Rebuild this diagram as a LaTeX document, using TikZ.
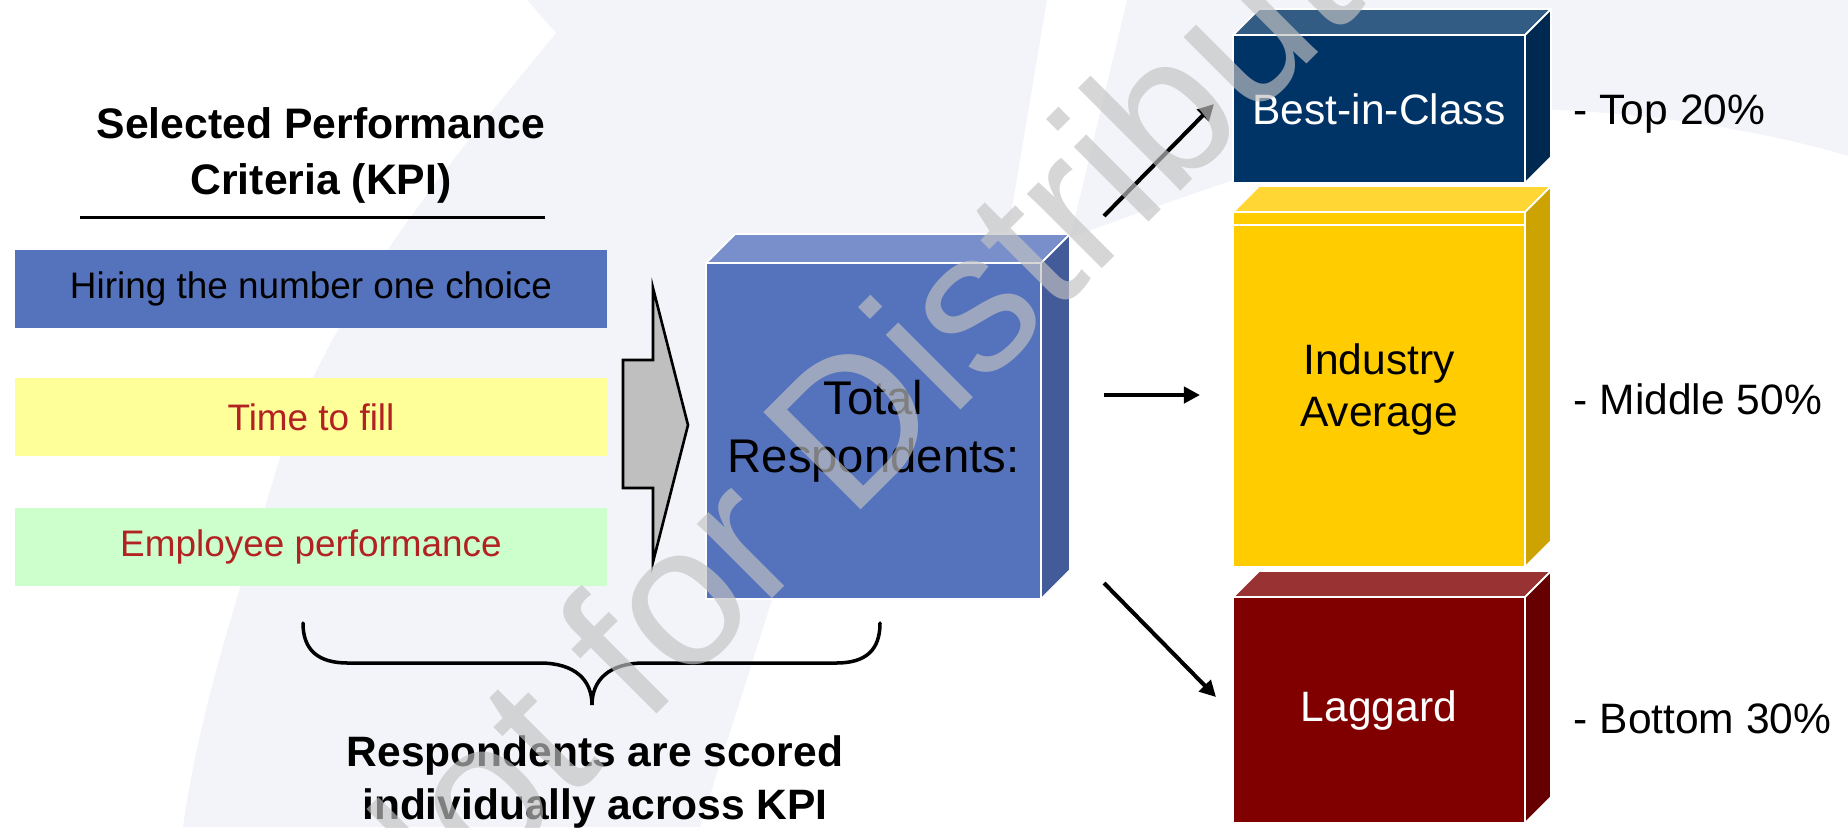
\documentclass[tikz,border=0pt]{standalone}
\usepackage{fontspec}
\setmainfont{Liberation Sans}
\usepackage{xcolor}
\usetikzlibrary{arrows.meta, calc, positioning}

\definecolor{bgtint}{RGB}{243,244,249}
\definecolor{kpiblue}{RGB}{85,114,188}
\definecolor{kpiyellow}{RGB}{255,255,153}
\definecolor{kpigreen}{RGB}{204,255,204}
\definecolor{kpired}{RGB}{178,34,34}
\definecolor{tottop}{RGB}{120,143,203}
\definecolor{totside}{RGB}{68,91,153}
\definecolor{bicfront}{RGB}{0,51,102}
\definecolor{bictop}{RGB}{51,92,133}
\definecolor{bicside}{RGB}{0,41,82}
\definecolor{avgfront}{RGB}{255,204,0}
\definecolor{avgtop}{RGB}{255,214,51}
\definecolor{avgside}{RGB}{204,163,0}
\definecolor{lagfront}{RGB}{128,0,0}
\definecolor{lagtop}{RGB}{153,51,51}
\definecolor{lagside}{RGB}{102,0,0}
\definecolor{wmgray}{RGB}{194,194,194}

% top and side faces of a box: node, depth, top colour, side colour
\newcommand{\cubefaces}[4]{%
  \filldraw[face, fill=#3] (#1.north west) -- ++(#2,#2) -- ($(#1.north east)+(#2,#2)$) -- (#1.north east) -- cycle;
  \filldraw[face, fill=#4] (#1.north east) -- ($(#1.north east)+(#2,#2)$) -- ($(#1.south east)+(#2,#2)$) -- (#1.south east) -- cycle;
}

\begin{document}
\begin{tikzpicture}[
    kpi/.style={minimum width=5.92cm, minimum height=0.78cm, inner sep=0pt, font=\fontsize{10.5}{12.6}\selectfont},
    block/.style={draw=white, line width=0.5pt, inner sep=0pt, outer sep=0pt},
    face/.style={draw=white, line width=0.5pt, line join=round},
    flow/.style={line width=1.15pt, -{Triangle[length=4.6pt, width=4.6pt]}},
    tag/.style={anchor=west, inner sep=0pt, font=\fontsize{12.1}{14.5}\selectfont},
]
    \useasboundingbox (0,0) rectangle (18.48,-8.27);
    \clip (0,0) rectangle (18.48,-8.27);

    % background swooshes
    \fill[bgtint] (0,0) rectangle (18.48,-8.27);
    \fill[white] (0,0) -- (5.27,0) -- (5.56,-0.33) .. controls (4.6,-1.5) and (3.3,-3.0) .. (2.77,-4.67)
        .. controls (2.5,-5.6) and (2.0,-7.0) .. (1.83,-8.27) -- (0,-8.27) -- cycle;
    \fill[white] (10.47,0) -- (11.27,0) -- (10.70,-2.38) -- (10.05,-2.50) -- cycle;
    \fill[white] (7.00,-8.27) -- (7.72,-6.00) -- (9.00,-3.00) -- (10.70,-2.38)
        .. controls (12.8,-1.6) and (14.6,-1.05) .. (15.6,-1.10)
        .. controls (16.6,-1.15) and (17.6,-1.30) .. (18.48,-1.56) -- (18.48,-8.27) -- cycle;

    % KPI list
    \node[font=\bfseries\fontsize{12.15}{15.9}\selectfont, align=center] (title) at (3.21,-1.55) {Selected Performance\\Criteria (KPI)};
    \draw[line width=0.85pt] (0.80,-2.17) -- (5.45,-2.17);

    \node[kpi, fill=kpiblue] (hiring) at (3.11,-2.89) {Hiring the number one choice};
    \node[kpi, fill=kpiyellow, text=kpired, below=0.49cm of hiring] (ttf) {Time to fill};
    \node[kpi, fill=kpigreen, text=kpired, below=0.50cm of ttf] (perf) {Employee performance};

    % block arrow into the total
    \filldraw[fill=black!25, draw=black, line width=0.75pt] (6.23,-3.60) -- (6.53,-3.60) -- (6.53,-2.88) -- (6.88,-4.25)
        -- (6.53,-5.62) -- (6.53,-4.88) -- (6.23,-4.88) -- cycle;

    % total respondents
    \node[block, fill=kpiblue, minimum width=3.35cm, minimum height=3.36cm, align=center,
          font=\fontsize{13.45}{16.5}\selectfont] (total) at (8.735,-4.31) {Total\\Respondents:};
    \cubefaces{total}{0.29}{tottop}{totside}

    % the three groups
    \node[block, fill=bicfront, text=white, minimum width=2.92cm, minimum height=1.48cm,
          font=\fontsize{12.1}{14.5}\selectfont] (bic) at (13.79,-1.09) {Best-in-Class};
    \node[block, fill=avgfront, minimum width=2.92cm, minimum height=3.55cm, align=center,
          font=\fontsize{12.1}{14.8}\selectfont, below=0.29cm of bic] (avg) {Industry\\Average};
    \node[block, fill=lagfront, text=white, minimum width=2.92cm, minimum height=2.26cm,
          font=\fontsize{12.1}{14.5}\selectfont, below=0.30cm of avg] (lag) {Laggard};
    \cubefaces{bic}{0.26}{bictop}{bicside}
    \cubefaces{avg}{0.26}{avgtop}{avgside}
    \cubefaces{lag}{0.26}{lagtop}{lagside}
    \draw[white, line width=0.5pt] ($(avg.north west)+(0,-0.13)$) -- ($(avg.north east)+(0,-0.13)$);

    \node[tag] (top) at (15.73,-1.14) {- Top 20\%};
    \node[tag] (mid) at (15.73,-3.99) {- Middle 50\%};
    \node[tag] (bot) at (15.73,-7.19) {- Bottom 30\%};

    % split arrows
    \coordinate (upfrom) at (11.04,-2.16);
    \coordinate (upto) at (12.14,-1.04);
    \coordinate (midfrom) at (11.04,-3.95);
    \coordinate (midto) at (12.00,-3.95);
    \coordinate (downfrom) at (11.04,-5.83);
    \coordinate (downto) at (12.16,-6.97);
    \draw[flow] (upfrom) -- (upto);
    \draw[flow] (midfrom) -- (midto);
    \draw[flow] (downfrom) -- (downto);

    % brace under the KPIs
    \draw[line width=1pt, line cap=round] (3.03,-6.23) .. controls (3.03,-6.50) and (3.18,-6.63) .. (3.48,-6.63) -- (5.40,-6.63)
        .. controls (5.75,-6.63) and (5.92,-6.80) .. (5.92,-7.05)
        .. controls (5.92,-6.80) and (6.09,-6.63) .. (6.44,-6.63) -- (8.36,-6.63)
        .. controls (8.66,-6.63) and (8.80,-6.50) .. (8.80,-6.23);
    \node[font=\bfseries\fontsize{12.1}{15}\selectfont, align=center] (scored) at (5.95,-7.82) {Respondents are scored\\individually across KPI};

    % stamp on top
    \node[font=\fontsize{56.9}{60}\selectfont, text=wmgray, text opacity=0.66, rotate=45, anchor=base,
          inner sep=0pt] (stamp) at (9.71,-4.00) {Not for Distribution};
\end{tikzpicture}
\end{document}
